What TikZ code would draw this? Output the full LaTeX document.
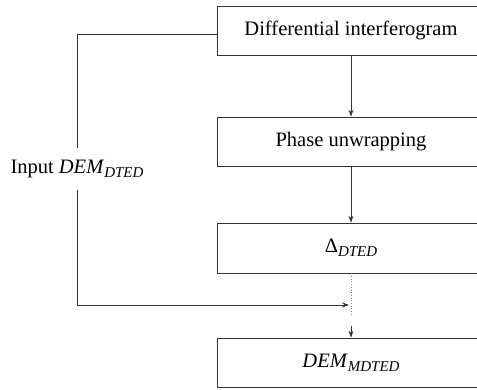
\documentclass[tikz,border=0pt]{standalone}
\usepackage{fontspec}
\setmainfont{Liberation Serif}
\usetikzlibrary{arrows.meta}
\newcommand{\sbx}[1]{\raisebox{-0.45ex}{\fontsize{15}{16}\selectfont\itshape #1}}
\begin{document}
\begin{tikzpicture}[x=1pt,y=1pt,
  line width=0.7pt,
  color=black!80,
  boxstyle/.style={draw,minimum width=268pt,inner sep=0pt,font=\fontsize{20.5}{23}\selectfont,text=black},
  arr/.style={-{Stealth[length=7pt,width=5pt]}},
  lbl/.style={inner sep=0pt,minimum height=42pt,font=\fontsize{20.5}{23}\selectfont,text=black}]
\useasboundingbox (0,0) rectangle (477,389);
\node[boxstyle,minimum height=49pt] (b1) at (351,358.5) {Differential interferogram};
\node[boxstyle,minimum height=49pt] (b2) at (351,247.5) {Phase unwrapping};
\node[boxstyle,minimum height=50pt] (b3) at (351,141) {Δ\sbx{DTED}};
\node[boxstyle,minimum height=49pt] (b4) at (351,26.5) {\textit{DEM}\sbx{MDTED}};
\node[lbl] (in) at (77,220) {Input \textit{DEM}\sbx{DTED}};
\coordinate (m) at (349,84);
\coordinate (d) at (351,73);
\coordinate (e) at (351,63);
\draw[arr] (b1.south) -- (b2.north);
\draw[arr] (b2.south) -- (b3.north);
\draw ([yshift=-3.5pt]b1.west) -| (in.north);
\draw[arr] (in.south) |- (m);
\draw[dotted,black!50] (b3.south) -- (d);
\draw[arr] (e) -- (b4.north);
\end{tikzpicture}
\end{document}
